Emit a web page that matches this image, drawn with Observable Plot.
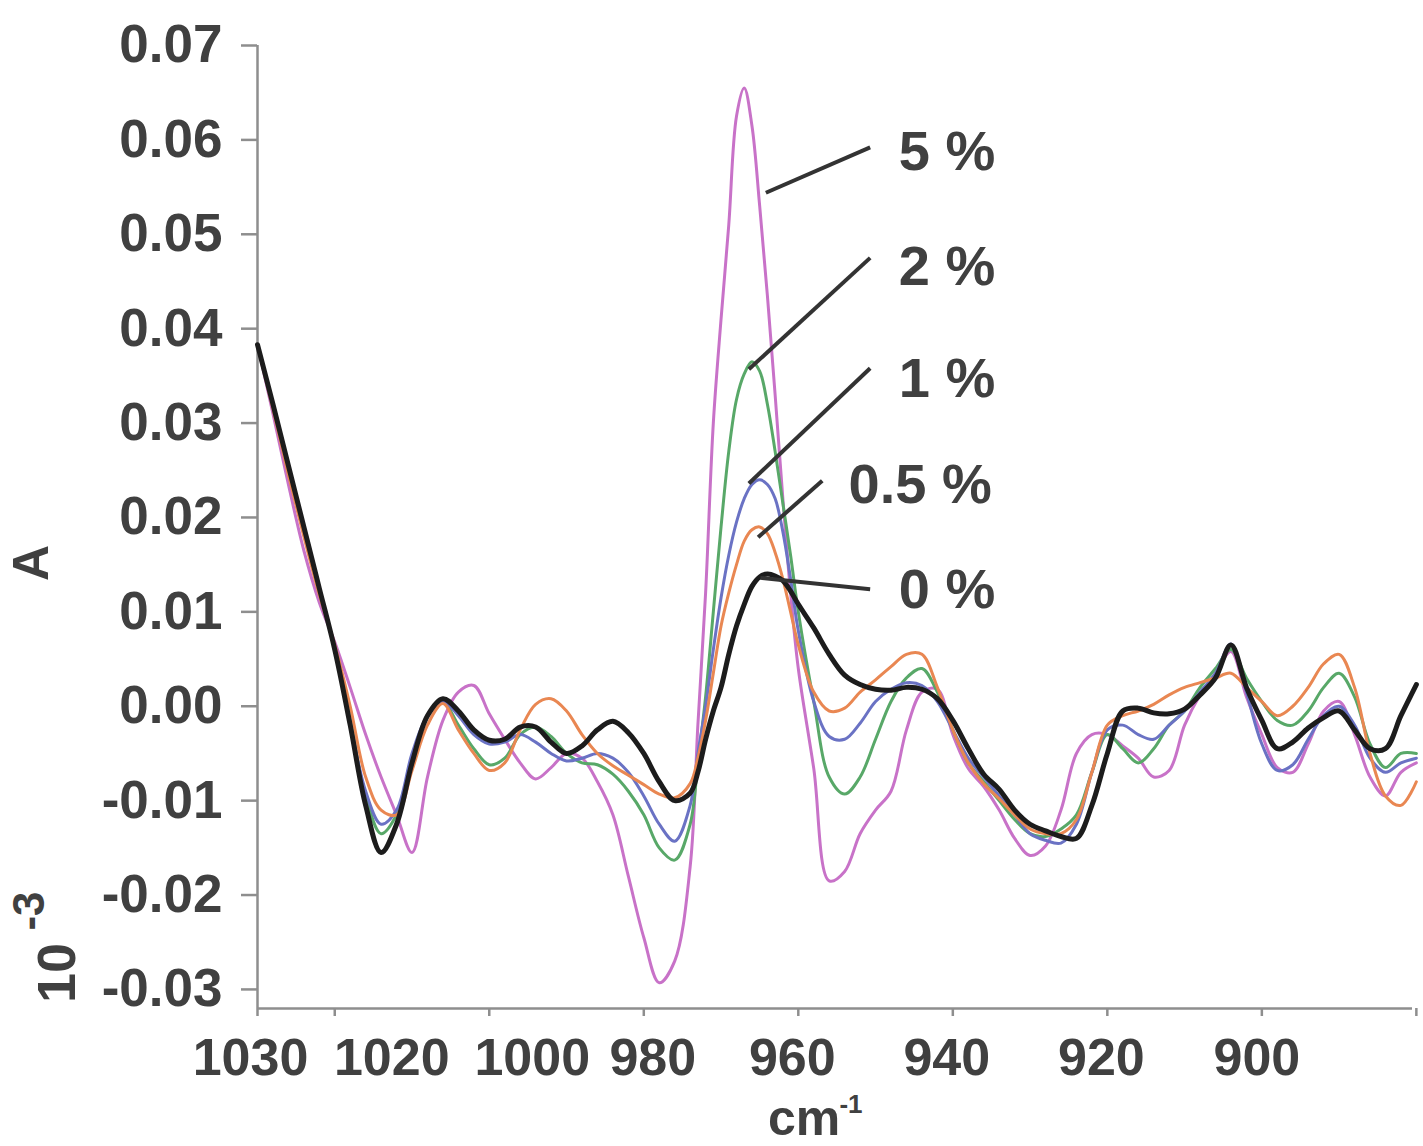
<!DOCTYPE html>
<html>
<head>
<meta charset="utf-8">
<script src="https://cdn.jsdelivr.net/npm/d3@7"></script>
<script src="https://cdn.jsdelivr.net/npm/@observablehq/plot@0.6"></script>
<style>
  html, body { margin: 0; padding: 0; background: #ffffff; }
  #chart svg { display: block; }
</style>
</head>
<body>
<div id="chart"></div>
<script>
// ---------- data ----------
const wavenumber = [
  1030,1028,1026,1024,1022,1020,1018,1016,1014,1012,1010,1008,1006,1004,1002,1000,
  998,996,994,992,990,988,986,984,982,980,978,976,974,
  973,972,971,970,969,968,967,966,965,964,963,962,961,960,
  958,956,954,952,950,948,946,944,942,940,938,936,934,932,930,928,926,924,922,920,
  918,916,914,912,910,908,906,904,902,900,898,896,894,892,890,888,886,884,882,880
];

const conc5 = [
  0.0383,0.031,0.0235,0.0165,0.011,0.0068,0.002,-0.003,-0.0075,-0.0115,-0.0155,-0.0075,-0.0015,0.0015,0.0022,-0.0008,
  -0.0035,-0.006,-0.0077,-0.0065,-0.005,-0.0055,-0.008,-0.0115,-0.018,-0.0245,-0.0293,-0.027,-0.017,
  -0.002,0.012,0.030,0.041,0.051,0.0625,0.0655,0.0615,0.053,0.0435,0.033,0.022,0.012,0.004,
  -0.0066,-0.0185,-0.0175,-0.0135,-0.011,-0.009,-0.0025,0.0015,0.0018,-0.003,-0.0066,-0.0085,-0.011,-0.014,-0.0158,-0.0148,-0.011,-0.005,-0.003,-0.003,
  -0.0042,-0.0055,-0.0075,-0.0068,-0.002,0.0012,0.0035,0.0058,0.001,-0.003,-0.0065,-0.007,-0.004,-0.0005,0.0005,-0.003,-0.0075,-0.0095,-0.007,-0.006
];

const conc2 = [
  0.0383,0.0318,0.025,0.0185,0.0122,0.0062,-0.0015,-0.0095,-0.0135,-0.0115,-0.0055,-0.001,0.0004,-0.002,-0.0045,-0.0062,
  -0.0055,-0.003,-0.0022,-0.0032,-0.005,-0.006,-0.0062,-0.0072,-0.009,-0.0115,-0.015,-0.0163,-0.0125,
  -0.006,0.001,0.010,0.019,0.027,0.0325,0.0352,0.0365,0.0355,0.032,0.027,0.0215,0.016,0.010,
  0.0005,-0.0075,-0.0093,-0.0075,-0.0035,0.0005,0.003,0.004,0.0015,-0.0025,-0.006,-0.008,-0.010,-0.012,-0.0135,-0.0138,-0.013,-0.0115,-0.007,-0.003,
  -0.0045,-0.006,-0.0045,-0.002,-0.0005,0.002,0.004,0.006,0.003,0.0005,-0.0015,-0.002,-0.0005,0.002,0.0035,0.001,-0.004,-0.0065,-0.005,-0.005
];

const conc1 = [
  0.0383,0.0318,0.025,0.0185,0.0123,0.006,-0.0018,-0.009,-0.0125,-0.011,-0.005,-0.001,0.0005,-0.001,-0.003,-0.004,
  -0.0038,-0.003,-0.0038,-0.005,-0.0058,-0.0055,-0.005,-0.0055,-0.007,-0.0095,-0.0125,-0.0143,-0.0105,
  -0.005,0.0,0.006,0.0115,0.016,0.0195,0.022,0.0235,0.024,0.0235,0.022,0.0185,0.0135,0.008,
  0.0005,-0.0032,-0.0035,-0.0018,0.0005,0.0018,0.0025,0.0022,0.0005,-0.0025,-0.0055,-0.0075,-0.0095,-0.0115,-0.0135,-0.0142,-0.0145,-0.0125,-0.007,-0.0025,
  -0.002,-0.003,-0.0035,-0.002,-0.0005,0.0015,0.0035,0.0066,0.0015,-0.004,-0.0068,-0.0062,-0.0035,-0.001,0.0,-0.002,-0.0055,-0.007,-0.006,-0.0055
];

const conc05 = [
  0.0383,0.0315,0.0245,0.018,0.0118,0.0065,0.0,-0.0075,-0.011,-0.0115,-0.0068,-0.002,0.0003,-0.0025,-0.005,-0.0068,
  -0.006,-0.0025,0.0002,0.0008,-0.0005,-0.003,-0.005,-0.0063,-0.0073,-0.0083,-0.0093,-0.0097,-0.0082,
  -0.0055,-0.0015,0.0035,0.0085,0.012,0.015,0.0175,0.0187,0.019,0.0183,0.0163,0.0135,0.010,0.0065,
  0.0015,-0.0005,-0.0002,0.0015,0.0028,0.0042,0.0055,0.0055,0.002,-0.0025,-0.006,-0.0082,-0.0098,-0.0115,-0.013,-0.0135,-0.0135,-0.012,-0.007,-0.002,
  -0.001,-0.0005,0.0002,0.0012,0.002,0.0025,0.003,0.0035,0.002,0.0005,-0.001,0.0,0.002,0.0045,0.0055,0.002,-0.005,-0.0095,-0.0105,-0.008
];

const conc0 = [
  0.0383,0.032,0.0255,0.019,0.0125,0.006,-0.002,-0.0105,-0.0155,-0.0125,-0.006,-0.001,0.0008,-0.0005,-0.0025,-0.0036,
  -0.0035,-0.0022,-0.0022,-0.0038,-0.005,-0.0042,-0.0025,-0.0016,-0.0028,-0.005,-0.008,-0.010,-0.0092,
  -0.007,-0.0035,-0.0005,0.002,0.0055,0.0085,0.0108,0.0127,0.0137,0.014,0.0138,0.0133,0.0122,0.0108,
  0.0083,0.0055,0.0033,0.0023,0.0018,0.0017,0.002,0.0018,0.0008,-0.0015,-0.0045,-0.0072,-0.0088,-0.011,-0.0125,-0.0132,-0.0138,-0.014,-0.0105,-0.005,
  -0.0005,-0.0002,-0.0007,-0.0008,-0.0003,0.0012,0.003,0.0065,0.002,-0.0015,-0.0045,-0.0038,-0.0023,-0.0012,-0.0005,-0.0025,-0.0045,-0.0045,-0.001,0.0023
];

const seriesNames = ["5 %", "2 %", "1 %", "0.5 %", "0 %"];
const seriesValues = [conc5, conc2, conc1, conc05, conc0];

const yTicks = [-0.03, -0.02, -0.01, 0.00, 0.01, 0.02, 0.03, 0.04, 0.05, 0.06, 0.07];
const xTicks = [1030, 1020, 1000, 980, 960, 940, 920, 900, 880];
const xTickLabels = [1030, 1020, 1000, 980, 960, 940, 920, 900];

// annotation labels and their leader lines (data units)
const annotText = ["5 %", "2 %", "1 %", "0.5 %", "0 %"];
const annotX = [947.0, 947.0, 947.0, 953.5, 947.0];
const annotY = [0.0587, 0.0465, 0.0347, 0.0234, 0.0123];
const leaderX1 = [950.7, 950.7, 950.7, 956.9, 950.7];
const leaderY1 = [0.0592, 0.0475, 0.0358, 0.0239, 0.0124];
const leaderX2 = [964.2, 966.4, 966.4, 965.2, 964.9];
const leaderY2 = [0.0544, 0.0357, 0.0236, 0.0179, 0.0136];

// ---------- build tables ----------
const rows = seriesNames.flatMap((name, i) =>
  wavenumber.map((w, j) => ({ name, x: w, y: seriesValues[i][j] }))
);
const annotations = annotText.map((t, i) => ({
  t, x: annotX[i], y: annotY[i],
  x1: leaderX1[i], y1: leaderY1[i], x2: leaderX2[i], y2: leaderY2[i]
}));

// ---------- styles ----------
const FONT = "'Liberation Sans', Arial, Helvetica, sans-serif";
const TEXT = "#404040";
const AXIS = "#8e8e8e";
const lineStyle = {
  "5 %":   { stroke: "#c872c8", width: 3 },
  "2 %":   { stroke: "#58a868", width: 3 },
  "1 %":   { stroke: "#6a72c4", width: 3 },
  "0.5 %": { stroke: "#e98752", width: 3 },
  "0 %":   { stroke: "#1c1c1c", width: 5 }
};
const xLabelShift = {1030: -7, 1020: 57, 1000: 43, 980: 9, 960: -6, 940: -6, 920: -6, 900: -5};
const yMin = -0.03202;

const marks = [
  Plot.ruleX([1030], { stroke: AXIS, strokeWidth: 2.5 }),
  Plot.ruleY([yMin], { stroke: AXIS, strokeWidth: 2.5 }),
  Plot.axisY(yTicks, {
    anchor: "left", tickSize: 16, tickPadding: 19, label: null,
    tickFormat: d => d.toFixed(2),
    stroke: AXIS, strokeWidth: 2.5, fill: TEXT,
    fontSize: 53, fontWeight: "bold"
  }),
  Plot.axisX(xTicks, {
    anchor: "bottom", tickSize: 8, label: null, tickFormat: () => "",
    stroke: AXIS, strokeWidth: 2.5
  }),
  ...xTickLabels.map(v => Plot.axisX([v], {
    anchor: "bottom", tickSize: 0, tickPadding: 30, label: null,
    tickFormat: d => String(d),
    dx: xLabelShift[v], fill: TEXT, fontSize: 52, fontWeight: "bold"
  })),
  ...seriesNames.map(name => Plot.line(rows.filter(r => r.name === name), {
    x: "x", y: "y", curve: "catmull-rom",
    stroke: lineStyle[name].stroke, strokeWidth: lineStyle[name].width,
    strokeLinejoin: "round", strokeLinecap: "round"
  })),
  Plot.link(annotations, {
    x1: "x1", y1: "y1", x2: "x2", y2: "y2",
    stroke: "#333333", strokeWidth: 4
  }),
  Plot.text(annotations, {
    x: "x", y: "y", text: "t", textAnchor: "start", lineAnchor: "middle",
    fontSize: 56, fontWeight: "bold", fill: TEXT
  }),
  // axis titles
  Plot.text(["A"], { frameAnchor: "left", dx: -226, dy: 36, rotate: -90,
    textAnchor: "middle", lineAnchor: "middle", fontSize: 50, fontWeight: "bold", fill: TEXT }),
  Plot.text(["10"], { frameAnchor: "left", dx: -200, dy: 446, rotate: -90,
    textAnchor: "middle", lineAnchor: "middle", fontSize: 54, fontWeight: "bold", fill: TEXT }),
  Plot.text(["-3"], { frameAnchor: "left", dx: -228, dy: 384, rotate: -90,
    textAnchor: "middle", lineAnchor: "middle", fontSize: 44, fontWeight: "bold", fill: TEXT }),
  Plot.text(["cm"], { frameAnchor: "bottom", dx: -31, dy: 110,
    textAnchor: "middle", lineAnchor: "middle", fontSize: 50, fontWeight: "bold", fill: TEXT }),
  Plot.text(["-1"], { frameAnchor: "bottom", dx: 16, dy: 96,
    textAnchor: "middle", lineAnchor: "middle", fontSize: 26, fontWeight: "bold", fill: TEXT })
];

const chart = Plot.plot({
  width: 1423,
  height: 1146,
  marginLeft: 257,
  marginRight: 11,
  marginTop: 45,
  marginBottom: 138,
  style: { fontFamily: FONT, background: "#ffffff", overflow: "visible" },
  x: { type: "linear", domain: [1030, 880.5] },
  y: { type: "linear", domain: [yMin, 0.07] },
  marks
});
document.getElementById("chart").append(chart);
</script>
</body>
</html>
